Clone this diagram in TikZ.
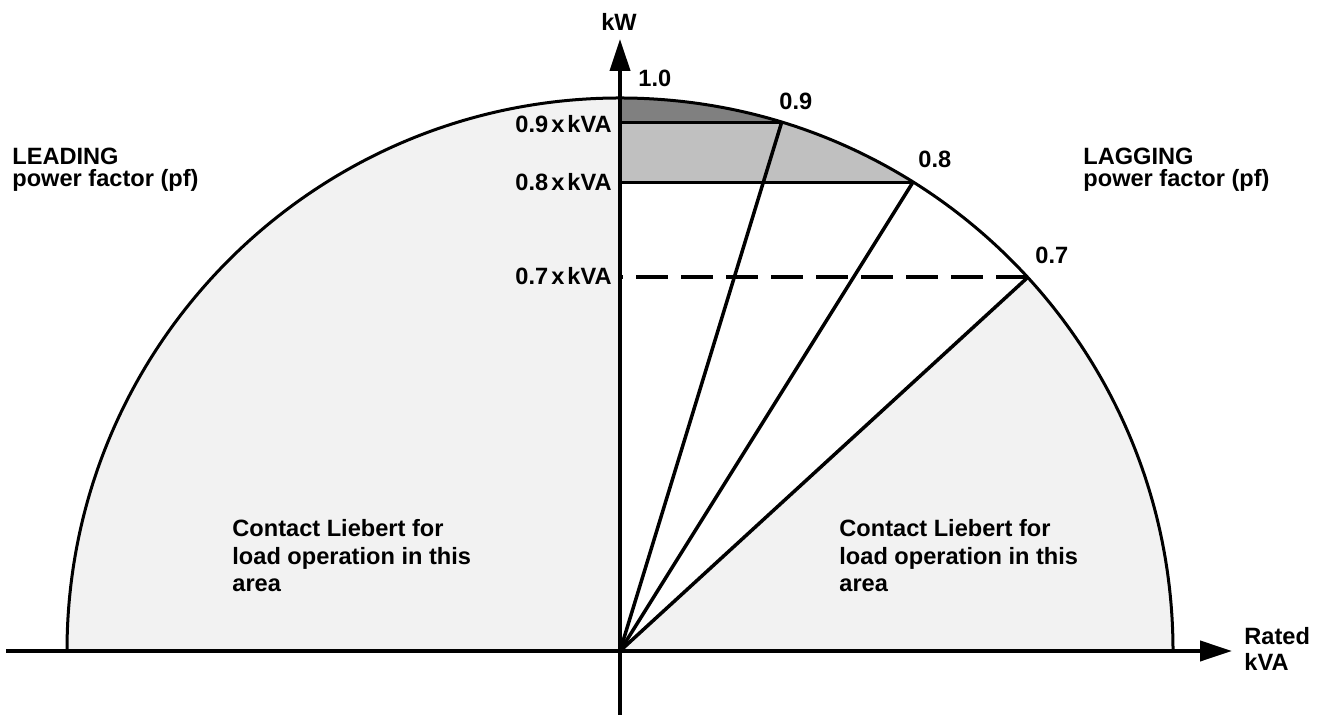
\documentclass[tikz,border=0pt]{standalone}
\usepackage{fontspec}
\setmainfont{Liberation Sans}
\usetikzlibrary{arrows.meta,calc}
\definecolor{fillLight}{HTML}{F2F2F2}
\definecolor{fillMid}{HTML}{C0C0C0}
\definecolor{fillDark}{HTML}{808080}
\newcommand{\tightsp}{\spaceskip=0.13em\relax}
\begin{document}
\begin{tikzpicture}[x=0.5pt,y=0.5pt,
  lbl/.style={font=\bfseries\fontsize{11.8}{13}\selectfont, inner sep=0pt},
  kva/.style={lbl, anchor=base east},
  axisline/.style={line width=2pt, -{Triangle[length=16pt,width=10pt]}},
  rim/.style={line width=1.5pt},
  ray/.style={line width=1.75pt},
  dashline/.style={line width=2pt, dash pattern=on 16pt off 6.5pt}]
\useasboundingbox (0,0) rectangle (1320,715);
\def\R{553}
\coordinate (O) at (620,64);
\coordinate (L) at ($(O)+(180:\R)$);
\coordinate (Rr) at ($(O)+(0:\R)$);
\coordinate (P9) at ($(O)+(73:\R)$);
\coordinate (P8) at ($(O)+(58:\R)$);
\coordinate (P7) at ($(O)+(42.5:\R)$);
\coordinate (A9) at (O |- P9);
\coordinate (A8) at (O |- P8);
\coordinate (A7) at (O |- P7);
\coordinate (xs) at (6,64);
\coordinate (xe) at (1232,64);
\coordinate (ys) at (620,0);
\coordinate (ye) at (620,676);
% fills
\fill[fillLight] (O) -- (L) arc[start angle=180,end angle=90,radius=\R] -- cycle;
\fill[fillLight] (O) -- (Rr) arc[start angle=0,end angle=42.5,radius=\R] -- cycle;
\fill[fillMid] (A8) -- (P8) arc[start angle=58,end angle=73,radius=\R] -- (A9) -- cycle;
\fill[fillDark] (A9) -- (P9) arc[start angle=73,end angle=90,radius=\R] -- cycle;
% lines
\draw[rim] (Rr) arc[start angle=0,end angle=180,radius=\R];
\draw[rim] (A9) -- (P9);
\draw[rim] (A8) -- (P8);
\draw[dashline] (P7) -- (A7);
\draw[ray] (O) -- (P9);
\draw[ray] (O) -- (P8);
\draw[ray] (O) -- (P7);
\draw[axisline] (xs) -- (xe);
\draw[axisline] (ys) -- (ye);
% labels
\node[lbl, anchor=base] (kw) at (619,684) {kW};
\node[lbl, anchor=base west] (t10) at (638,628) {1.0};
\node[lbl, anchor=base west] (t09) at (779,605) {0.9};
\node[lbl, anchor=base west] (t08) at (918,547) {0.8};
\node[lbl, anchor=base west] (t07) at (1035,451) {0.7};
\node[kva] (k9) at (612,582) {\tightsp 0.9 x kVA};
\node[kva] (k8) at (612,524) {\tightsp 0.8 x kVA};
\node[kva] (k7) at (612,430) {\tightsp 0.7 x kVA};
\node[lbl, anchor=base west, align=left, font=\bfseries\fontsize{11.8}{11}\selectfont] (lead) at (12,528) {LEADING\\power factor (pf)};
\node[lbl, anchor=base west, align=left, font=\bfseries\fontsize{11.8}{11}\selectfont] (lag) at (1083,528) {LAGGING\\power factor (pf)};
\node[lbl, anchor=base west, align=left, font=\bfseries\fontsize{11.8}{13.75}\selectfont] (cl) at (232,123) {Contact Liebert for\\load operation in this\\area};
\node[lbl, anchor=base west, align=left, font=\bfseries\fontsize{11.8}{13.75}\selectfont] (cr) at (839,123) {Contact Liebert for\\load operation in this\\area};
\node[lbl, anchor=base west, align=left, font=\bfseries\fontsize{11.8}{13}\selectfont] (rk) at (1244,44) {Rated\\kVA};
\end{tikzpicture}
\end{document}
